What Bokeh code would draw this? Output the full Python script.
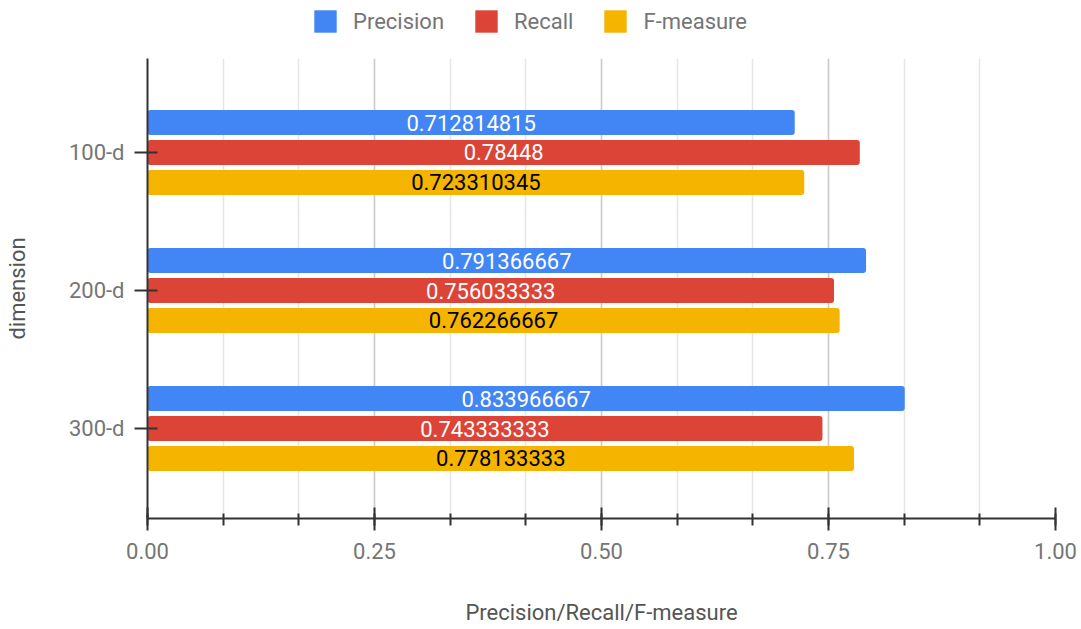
from bokeh.plotting import figure
from bokeh.layouts import column
from bokeh.models import Range1d, FixedTicker, ColumnDataSource, Legend, LegendItem, NumeralTickFormatter
from bokeh.core.properties import value
from bokeh.embed import file_html
from bokeh.resources import INLINE

categories = ["100-d", "200-d", "300-d"]
series = ["Precision", "Recall", "F-measure"]
precision = [0.712814815, 0.791366667, 0.833966667]
recall = [0.78448, 0.756033333, 0.743333333]
fmeasure = [0.723310345, 0.762266667, 0.778133333]
colors = ["#4285F4", "#DB4437", "#F4B400"]
label_colors = ["#ffffff", "#ffffff", "#000000"]
x_ticks = [0, 0.25, 0.5, 0.75, 1.0]
x_minor_ticks = [i / 12 for i in range(13)]

FONT = "Roboto"
GRAY = "#757575"
FS = "22px"

# ---- legend strip on top (frame aligned with the main chart's frame) ----
leg_fig = figure(width=1081, height=58, output_backend="svg", toolbar_location=None,
                 x_range=Range1d(0, 1), y_range=Range1d(0, 1),
                 x_axis_location=None, y_axis_location=None,
                 min_border=0)
leg_fig.outline_line_color = None
leg_fig.xgrid.visible = False
leg_fig.ygrid.visible = False
proxies = []
for k, name in enumerate(series):
    # legend swatches only; the single proxy bar lies outside the visible range
    proxies.append(leg_fig.hbar(y=[-10], right=[1], left=0, height=0.1,
                                fill_color=colors[k], line_color=None, border_radius=3))
legend = Legend(items=[LegendItem(label=s, renderers=[r]) for s, r in zip(series, proxies)],
                orientation="horizontal", location=(164, 23),
                border_line_color=None, background_fill_alpha=0,
                label_text_font=FONT, label_text_font_size=FS, label_text_color=GRAY,
                glyph_width=28, glyph_height=28, label_standoff=14, spacing=28,
                padding=0, margin=0)
leg_fig.add_layout(legend, "center")

# ---- main chart ----
fig = figure(width=1081, height=571, output_backend="svg", toolbar_location=None,
             x_range=Range1d(0, 1), y_range=Range1d(2.652, -0.681),
             min_border_left=147, min_border_right=26, min_border_top=0, min_border_bottom=111)
fig.outline_line_color = None

offsets = [-0.217, 0.0, 0.217]
bar_h = 0.181
for k, (name, vals) in enumerate(zip(series, [precision, recall, fmeasure])):
    ys = [i + offsets[k] for i in range(len(categories))]
    src = ColumnDataSource(dict(y=ys, right=vals, mid=[v / 2 for v in vals],
                                lab=[str(v) for v in vals]))
    fig.hbar(y="y", right="right", left=0, height=bar_h, source=src,
             fill_color=colors[k], line_color=None, border_radius=3)
    fig.text(x="mid", y="y", text="lab", source=src, text_align="center",
             text_baseline="middle", text_color=label_colors[k],
             text_font=value(FONT), text_font_size="22px")

xa = fig.xaxis[0]
xa.ticker = FixedTicker(ticks=x_ticks, minor_ticks=x_minor_ticks)
xa.formatter = NumeralTickFormatter(format="0.00")
xa.axis_label = "Precision/Recall/F-measure"
xa.axis_line_color = "#333333"
xa.axis_line_width = 2
xa.major_tick_line_color = "#333333"
xa.major_tick_line_width = 2
xa.major_tick_in = 11
xa.major_tick_out = 12
xa.minor_tick_line_color = "#333333"
xa.minor_tick_line_width = 2
xa.minor_tick_in = 5
xa.minor_tick_out = 7
xa.major_label_standoff = 12
xa.major_label_text_font = FONT
xa.major_label_text_font_size = FS
xa.major_label_text_color = GRAY
xa.axis_label_text_font = FONT
xa.axis_label_text_font_style = "normal"
xa.axis_label_text_font_size = FS
xa.axis_label_text_color = "#555555"
xa.axis_label_standoff = 38

ya = fig.yaxis[0]
ya.ticker = FixedTicker(ticks=[0, 1, 2])
ya.major_label_overrides = {i: c for i, c in enumerate(categories)}
ya.axis_label = "dimension"
ya.axis_line_color = "#333333"
ya.axis_line_width = 2
ya.major_tick_line_color = "#333333"
ya.major_tick_line_width = 2
ya.major_tick_in = 10
ya.major_tick_out = 13
ya.minor_tick_line_color = None
ya.major_label_standoff = 10
ya.major_label_text_font = FONT
ya.major_label_text_font_size = FS
ya.major_label_text_color = GRAY
ya.axis_label_text_font = FONT
ya.axis_label_text_font_style = "normal"
ya.axis_label_text_font_size = FS
ya.axis_label_text_color = "#555555"
ya.axis_label_standoff = 36

fig.ygrid.grid_line_color = None
fig.xgrid.grid_line_color = "#cccccc"
fig.xgrid.grid_line_width = 1.5
fig.xgrid.minor_grid_line_color = "#e6e6e6"
fig.xgrid.minor_grid_line_width = 1.5

p = column(leg_fig, fig, spacing=0)

open("out.html", "w").write(file_html(p, INLINE))
